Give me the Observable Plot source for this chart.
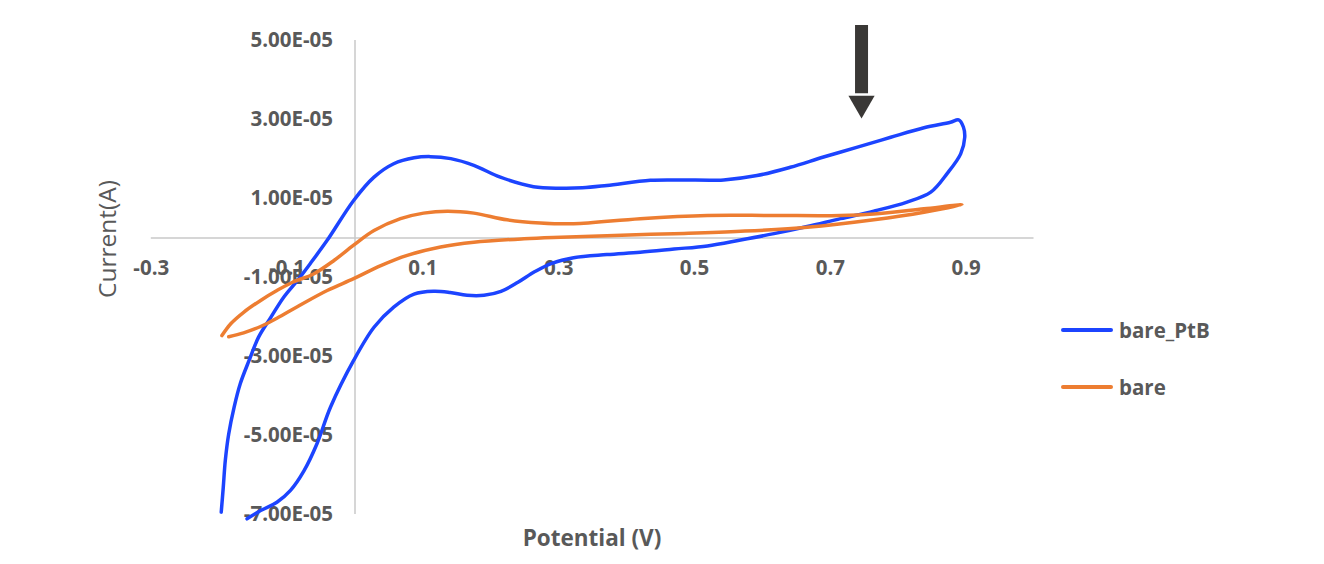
<!DOCTYPE html>
<html>
<head>
<meta charset="utf-8">
<script src="https://cdn.jsdelivr.net/npm/d3@7"></script>
<script src="https://cdn.jsdelivr.net/npm/@observablehq/plot@0.6"></script>
<style>
  html, body { margin: 0; padding: 0; background: #fff; }
  #wrap { position: relative; width: 1324px; height: 564px; font-family: "Open Sans", sans-serif; color: #595959; }
  #chart { position: absolute; left: 0; top: 0; }
  .ytitle { position: absolute; left: 106px; top: 239px; transform: translate(-50%, -50%) rotate(-90deg); font-size: 24.5px; white-space: nowrap; }
  .xtitle { position: absolute; left: 592px; top: 537px; transform: translate(-50%, -50%); font-size: 22.5px; font-weight: bold; white-space: nowrap; }
  .legend { position: absolute; left: 1061px; top: 316px; font-size: 20.5px; font-weight: bold; }
  .legend .item { display: flex; align-items: center; height: 28px; margin-bottom: 29px; }
  .legend .swatch { width: 52px; height: 4px; border-radius: 2px; margin-right: 6px; }
</style>
</head>
<body>
<div id="wrap">
  <div id="chart"></div>
  <div class="ytitle">Current(A)</div>
  <div class="xtitle">Potential (V)</div>
  <div class="legend" id="legend"></div>
</div>
<script>
// Series: potential (V) and current (A), traced in scan order
const barePtB_V = [-0.197,-0.194,-0.191,-0.186,-0.178,-0.169,-0.156,-0.142,-0.124,-0.105,-0.085,-0.066,-0.041,-0.002,0.028,0.057,0.087,0.111,0.141,0.175,0.214,0.263,0.302,0.335,0.371,0.435,0.479,0.543,0.592,0.641,0.690,0.740,0.789,0.838,0.877,0.889,0.896,0.898,0.892,0.872,0.848,0.813,0.764,0.715,0.666,0.617,0.568,0.519,0.470,0.420,0.371,0.322,0.290,0.265,0.240,0.215,0.190,0.165,0.140,0.116,0.087,0.057,0.028,-0.002,-0.036,-0.056,-0.075,-0.095,-0.115,-0.139,-0.159];
const barePtB_A = [-6.94e-5,-6.31e-5,-5.63e-5,-4.96e-5,-4.28e-5,-3.69e-5,-3.10e-5,-2.51e-5,-2.01e-5,-1.50e-5,-1.08e-5,-0.65e-5,-0.06e-5,0.95e-5,1.54e-5,1.88e-5,2.03e-5,2.06e-5,2.01e-5,1.84e-5,1.54e-5,1.30e-5,1.26e-5,1.27e-5,1.33e-5,1.46e-5,1.47e-5,1.47e-5,1.58e-5,1.79e-5,2.05e-5,2.30e-5,2.55e-5,2.79e-5,2.93e-5,2.99e-5,2.81e-5,2.55e-5,2.13e-5,1.63e-5,1.16e-5,0.91e-5,0.68e-5,0.49e-5,0.29e-5,0.11e-5,-0.05e-5,-0.20e-5,-0.28e-5,-0.36e-5,-0.42e-5,-0.50e-5,-0.64e-5,-0.85e-5,-1.12e-5,-1.35e-5,-1.45e-5,-1.45e-5,-1.38e-5,-1.35e-5,-1.42e-5,-1.75e-5,-2.26e-5,-3.10e-5,-4.28e-5,-5.21e-5,-5.89e-5,-6.39e-5,-6.69e-5,-6.90e-5,-7.11e-5];
const bare_V = [-0.196,-0.183,-0.164,-0.139,-0.115,-0.092,-0.061,-0.031,-0.002,0.028,0.067,0.101,0.136,0.175,0.224,0.273,0.322,0.420,0.519,0.617,0.715,0.764,0.838,0.894,0.838,0.764,0.666,0.568,0.470,0.371,0.303,0.249,0.175,0.126,0.077,0.038,-0.002,-0.041,-0.085,-0.115,-0.139,-0.164,-0.186];
const bare_A = [-2.47e-5,-2.17e-5,-1.88e-5,-1.58e-5,-1.33e-5,-1.12e-5,-0.91e-5,-0.57e-5,-0.18e-5,0.19e-5,0.49e-5,0.63e-5,0.68e-5,0.63e-5,0.46e-5,0.38e-5,0.36e-5,0.49e-5,0.57e-5,0.57e-5,0.57e-5,0.61e-5,0.74e-5,0.84e-5,0.65e-5,0.46e-5,0.27e-5,0.17e-5,0.11e-5,0.06e-5,0.02e-5,-0.02e-5,-0.11e-5,-0.23e-5,-0.44e-5,-0.70e-5,-1.03e-5,-1.33e-5,-1.74e-5,-2.03e-5,-2.24e-5,-2.40e-5,-2.50e-5];

const seriesNames = ["bare_PtB", "bare"];
const seriesColors = ["#1c44ff", "#ed7d31"];

const xTicks = [-0.3, -0.1, 0.1, 0.3, 0.5, 0.7, 0.9];
const xTickLabels = ["-0.3", "-0.1", "0.1", "0.3", "0.5", "0.7", "0.9"];
const yTicks = [5e-5, 3e-5, 1e-5, -1e-5, -3e-5, -5e-5, -7e-5];
const yTickLabels = ["5.00E-05", "3.00E-05", "1.00E-05", "-1.00E-05", "-3.00E-05", "-5.00E-05", "-7.00E-05"];

// Arrow annotation (potential, current)
const arrowX = [0.746];
const arrowTop = [5.38e-5];
const arrowHeadBase = [3.65e-5];
const arrowTip = [3.17e-5];

const rows = [];
barePtB_V.forEach((v, i) => rows.push({series: "bare_PtB", i, V: v, A: barePtB_A[i]}));
bare_V.forEach((v, i) => rows.push({series: "bare", i, V: v, A: bare_A[i]}));

const xt = xTicks.map((v, i) => ({v, label: xTickLabels[i]}));
const yt = yTicks.map((v, i) => ({v, label: yTickLabels[i]}));
const arrow = arrowX.map((x, i) => ({x, top: arrowTop[i], base: arrowHeadBase[i], tip: arrowTip[i]}));

const gray = "#595959";
const chart = Plot.plot({
  width: 1324,
  height: 564,
  marginLeft: 150.8,
  marginRight: 290.5,
  marginTop: 40,
  marginBottom: 50,
  style: {fontFamily: "'Open Sans', sans-serif", background: "transparent", overflow: "visible"},
  x: {domain: [-0.3, 1.0], axis: null},
  y: {domain: [-7e-5, 5e-5], axis: null},
  color: {domain: seriesNames, range: seriesColors},
  marks: [
    Plot.ruleY([0], {stroke: "#c8c8c8", strokeWidth: 1.5}),
    Plot.ruleX([0], {stroke: "#c8c8c8", strokeWidth: 1.5}),
    Plot.text(xt, {x: "v", y: 0, text: "label", dy: 30, fill: gray, fontSize: 20.5, fontWeight: "bold"}),
    Plot.text(yt, {x: 0, y: "v", text: "label", dx: -22, textAnchor: "end", fill: gray, fontSize: 20.5, fontWeight: "bold"}),
    Plot.line(rows, {x: "V", y: "A", z: "series", stroke: "series", strokeWidth: 3.5, curve: "catmull-rom", strokeLinecap: "round"}),
    Plot.ruleX(arrow, {x: "x", y1: "top", y2: "base", stroke: "#3a3836", strokeWidth: 13}),
    Plot.dot(arrow, {x: "x", y: d => (d.base + d.tip) / 2, symbol: "triangle2", rotate: 180, r: 12.5, fill: "#3a3836", stroke: "none"})
  ]
});
document.getElementById("chart").appendChild(chart);

const legend = document.getElementById("legend");
seriesNames.forEach((name, i) => {
  const item = document.createElement("div");
  item.className = "item";
  const sw = document.createElement("div");
  sw.className = "swatch";
  sw.style.background = seriesColors[i];
  const t = document.createElement("span");
  t.textContent = name;
  item.appendChild(sw);
  item.appendChild(t);
  legend.appendChild(item);
});
</script>
</body>
</html>
